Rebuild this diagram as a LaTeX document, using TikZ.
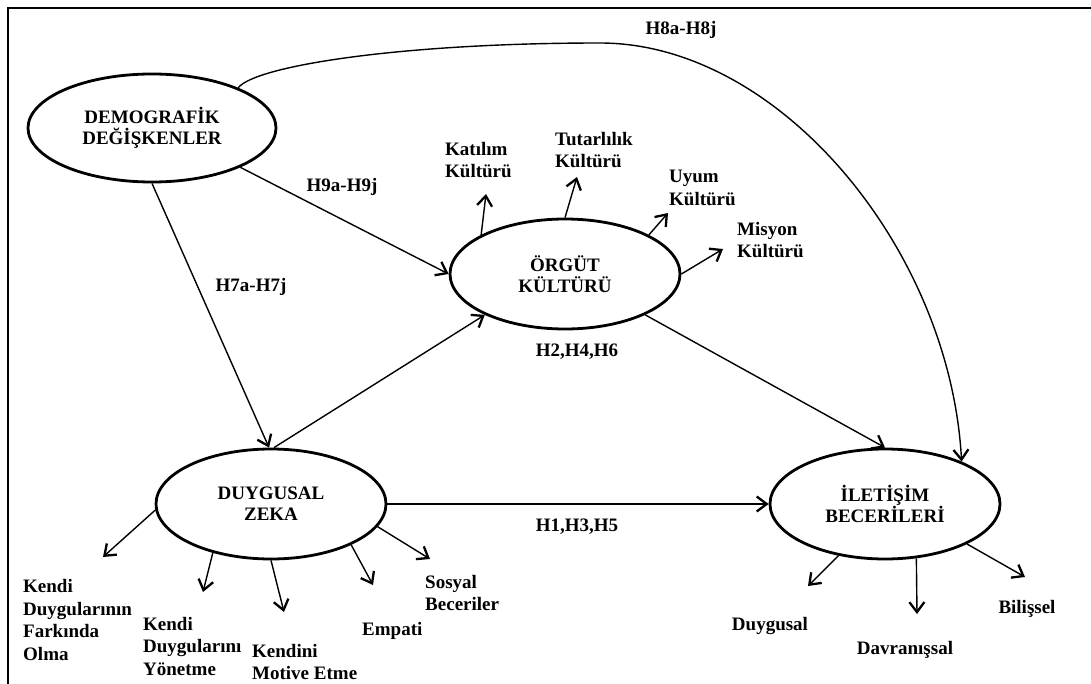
\documentclass[tikz,border=0pt]{standalone}
\usepackage{fontspec}
\setmainfont{Liberation Serif}
\usetikzlibrary{shapes,arrows.meta}

\begin{document}
\begin{tikzpicture}[x=1pt,y=-1pt,
  every node/.style={font=\bfseries\fontsize{19}{22.5}\selectfont,inner sep=0pt},
  var/.style={ellipse,draw,line width=2.8pt,minimum width=230pt,minimum height=110pt,
    align=center,font=\bfseries\fontsize{19}{21}\selectfont},
  dim/.style={align=left,anchor=west},
  arr/.style={-{Straight Barb[length=10pt,width=15pt,line width=2.3pt]},line width=1.4pt}]
\useasboundingbox (0,0) rectangle (1091,684);
\draw[line width=2.4pt] (8,684) -- (8,8) -- (1091,8);

\node[var,minimum width=248pt,minimum height=108pt] (dem) at (152,128) {DEMOGRAFİK\\DEĞİŞKENLER};
\node[var] (org) at (565,274) {ÖRGÜT\\KÜLTÜRÜ};
\node[var] (dz) at (271,504) {DUYGUSAL\\ZEKA};
\node[var] (ilt) at (885,504) {İLETİŞİM\\BECERİLERİ};

\node (h9) at (342,187) {H9a-H9j};
\node (h7) at (251,287) {H7a-H7j};
\node (h8) at (681,30) {H8a-H8j};
\node (h246) at (577,352) {H2,H4,H6};
\node (h135) at (577,527) {H1,H3,H5};

\node[dim] (kat) at (445,160) {Katılım\\Kültürü};
\node[dim] (tut) at (555,150) {Tutarlılık\\Kültürü};
\node[dim] (uyu) at (669,188) {Uyum\\Kültürü};
\node[dim] (mis) at (737,240) {Misyon\\Kültürü};
\node[dim] (far) at (23,620) {Kendi\\Duygularının\\Farkında\\Olma};
\node[dim] (yon) at (143,646) {Kendi\\Duygularını\\Yönetme};
\node[dim] (mot) at (252,662) {Kendini\\Motive Etme};
\node[dim] (emp) at (362,631) {Empati};
\node[dim] (sos) at (425,593) {Sosyal\\Beceriler};
\node (duy) at (770,626) {Duygusal};
\node (dav) at (905,650) {Davranışsal};
\node (bil) at (1027,609) {Bilişsel};

\coordinate (katT) at (486,194);
\coordinate (tutT) at (577,177);
\coordinate (uyuT) at (668,213);
\coordinate (misT) at (723,249);
\coordinate (farT) at (103,557);
\coordinate (yonT) at (203,592);
\coordinate (motT) at (284,612);
\coordinate (empT) at (373,585);
\coordinate (sosT) at (430,559);
\coordinate (duyT) at (808,586);
\coordinate (davT) at (917,614);
\coordinate (bilT) at (1025,577);
\coordinate (peak) at (600,43);

\path[arr] (dem.336) edge (org.west);
\path[arr] (dem.south) edge (dz.92);
\path[arr] (dz.87) edge (org.207);
\path[arr] (org.333) edge (ilt.north);
\path[arr] (dz.east) edge (ilt.west);
\draw[arr] (dem.25) .. controls (255,66) and (400,43) .. (peak) .. controls (780,43) and (950,250) .. (ilt.29);

\path[arr] (org.155) edge (katT);
\path[arr] (org.90) edge (tutT);
\path[arr] (org.25) edge (uyuT);
\path[arr] (org.0) edge (misT);
\path[arr] (dz.183) edge (farT);
\path[arr] (dz.220) edge (yonT);
\path[arr] (dz.270) edge (motT);
\path[arr] (dz.333) edge (empT);
\path[arr] (dz.348) edge (sosT);
\path[arr] (ilt.228) edge (duyT);
\path[arr] (ilt.300) edge (davT);
\path[arr] (ilt.334) edge (bilT);
\end{tikzpicture}
\end{document}
